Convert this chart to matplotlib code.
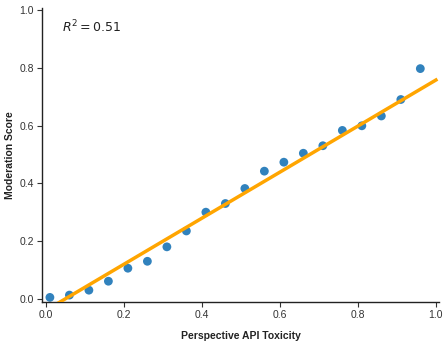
import numpy as np
import matplotlib
matplotlib.use("Agg")
import matplotlib.pyplot as plt

# binned means
toxicity = [0.01, 0.06, 0.11, 0.16, 0.21, 0.26, 0.31, 0.36, 0.41, 0.46,
            0.51, 0.56, 0.61, 0.66, 0.71, 0.76, 0.81, 0.86, 0.91, 0.96]
moderation = [0.005, 0.013, 0.030, 0.061, 0.106, 0.130, 0.180, 0.235, 0.300, 0.330,
              0.382, 0.442, 0.473, 0.504, 0.530, 0.583, 0.599, 0.633, 0.690, 0.797]

# regression fit (from the raw data)
fit_slope = 0.797
fit_intercept = -0.0395
r_squared = 0.51

plt.rcParams['font.family'] = ['Liberation Sans', 'DejaVu Sans']

fig = plt.figure(figsize=(4.48, 3.45), dpi=100)
ax = fig.add_axes([0.094, 0.125, 0.886, 0.852])

ax.scatter(toxicity, moderation, s=40, color='#3182bd', edgecolors='none', zorder=2)
xs = np.array([0.0, 1.0])
ax.plot(xs, fit_slope * xs + fit_intercept, color='#ffa500', lw=2.5, zorder=3)

ax.text(0.05, 0.935, f'$R^2 = {r_squared:.2f}$', transform=ax.transAxes,
        fontsize=9, family='DejaVu Sans', va='center', ha='left', color='#222222')

ax.set_xlim(-0.01, 1.008)
ax.set_ylim(-0.0105, 1.007)
ax.set_xticks([0.0, 0.2, 0.4, 0.6, 0.8, 1.0])
ax.set_yticks([0.0, 0.2, 0.4, 0.6, 0.8, 1.0])
ax.tick_params(labelsize=7.5, colors='#333333', length=3.5, width=0.8, pad=2.5)
ax.set_xlabel('Perspective API Toxicity', fontsize=7.5, fontweight='bold', color='#222222', labelpad=8)
ax.set_ylabel('Moderation Score', fontsize=7.5, fontweight='bold', color='#222222', labelpad=3)

for side in ['top', 'right']:
    ax.spines[side].set_visible(False)
for side in ['left', 'bottom']:
    ax.spines[side].set_color('#222222')
    ax.spines[side].set_linewidth(1.0)

fig.savefig('out.png', dpi=100)
